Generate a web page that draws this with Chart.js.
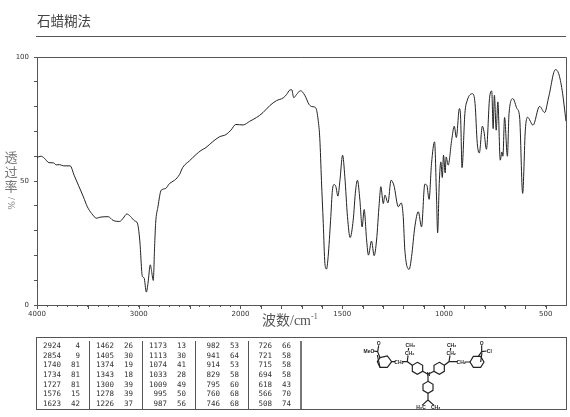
<!DOCTYPE html>
<html lang="zh">
<head>
  <meta charset="UTF-8" />
  <title>石蜡糊法</title>
  <script src="https://cdn.jsdelivr.net/npm/chart.js"></script>
  <style>
    body {
      margin: 0;
      background: white;
      font-family: "Liberation Serif", "Noto Sans CJK SC", serif;
      color: #333;
    }
    .page {
      position: relative;
      width: 570px;
      height: 417px;
      overflow: hidden;
    }
    canvas {
      position: absolute;
      left: 0;
      top: 0;
    }
    .title {
      position: absolute;
      left: 37px;
      top: 14px;
      font-size: 13.5px;
      line-height: 16px;
      color: #444;
    }
    .rule {
      position: absolute;
      left: 36px;
      top: 36px;
      width: 530px;
      height: 1px;
      background: #555;
    }
    .ylabel {
      position: absolute;
      left: 4px;
      top: 151px;
      width: 14px;
      font-size: 13px;
      line-height: 14.5px;
      text-align: center;
      color: #777;
    }
    .ylabel span {
      display: block;
    }
    .ylabel .side {
      height: 7px;
      line-height: 7px;
      font-size: 10px;
      transform: rotate(90deg);
    }
    .xlabel {
      position: absolute;
      left: 262px;
      top: 312px;
      font-size: 14px;
      line-height: 18px;
      color: #555;
      white-space: nowrap;
    }
    .xlabel sup {
      font-size: 8px;
      line-height: 0;
    }
    .peaks {
      position: absolute;
      left: 36px;
      top: 337px;
      width: 529px;
      height: 71px;
      border: 1px solid #555;
    }
    .peakcol {
      position: absolute;
      top: 3px;
      width: 53px;
      height: 68px;
      box-sizing: border-box;
      border-right: 1px solid #555;
      font-family: "DejaVu Sans Mono", monospace;
      font-size: 7.5px;
      color: #333;
    }
    .peakcol:last-child {
      border-right: 2px solid #777;
    }
    .peakrow {
      position: relative;
      height: 9.7px;
      line-height: 9.7px;
    }
    .peakrow span {
      position: absolute;
      text-align: right;
    }
    .peakrow .w { right: 28px; }
    .peakrow .t { right: 9px; }
    .struct {
      position: absolute;
      left: 300px;
      top: 330px;
      width: 270px;
      height: 85px;
    }
    .struct text {
      font-family: "Liberation Sans", sans-serif;
      font-size: 15px;
      font-weight: bold;
      text-anchor: middle;
      fill: #222;
    }
  </style>
</head>
<body>

<div class="page">
  <canvas id="irChart" width="570" height="417"></canvas>
  <div class="title">石蜡糊法</div>
  <div class="rule"></div>
  <div class="ylabel"><span>透</span><span>过</span><span>率</span><span class="side">/</span><span class="side">%</span></div>
  <div class="xlabel">波数/cm<sup>-1</sup></div>
  <div class="peaks" id="peaks"></div>

  <svg class="struct" viewBox="0 0 810 255">
    <g fill="none" stroke="#222" stroke-width="3.5">
      <polygon points="240,83 262,78 275,95 262,112 240,112 232,95" />
      <polygon points="510,96 520,79 542,79 552,96 542,112 520,112" />
      <polygon points="352,97 368,106 368,124 352,133 337,124 337,106" />
      <polygon points="418,97 433,106 433,124 418,133 402,124 402,106" />
      <polygon points="384,154 399,163 399,181 384,190 369,181 369,163" />
      <path d="M368,124 L384,133 L402,124 M384,133 L384,154 M384,190 L384,210 L366,226 M384,210 L402,226" />
      <path d="M275,95 L287,95 M306,95 L322,95 L337,106 M322,95 L324,76 M325,62 L326,54" />
      <path d="M433,106 L447,95 L473,95 M447,95 L450,76 M451,62 L452,54 M494,96 L510,96" />
      <path d="M240,83 L233,65 L236,46 M233,65 L220,63 M240,112 L232,75" />
      <path d="M535,79 L545,65 L545,46 M545,65 L560,63 M542,96 L546,68" />
    </g>
    <text x="207" y="68">MeO</text>
    <text x="236" y="44">O</text>
    <text x="297" y="101">CH₂</text>
    <text x="329" y="74">CH₂</text>
    <text x="331" y="52">CH₃</text>
    <text x="484" y="101">CH₂</text>
    <text x="454" y="74">CH₂</text>
    <text x="455" y="52">CH₃</text>
    <text x="545" y="44">O</text>
    <text x="568" y="68">Cl</text>
    <text x="386" y="138">N</text>
    <text x="363" y="238">H₃C</text>
    <text x="407" y="238">CH₃</text>
  </svg>
</div>

<script>
  // spectrum
  const waveNumbers = [
    4000, 3961, 3928, 3883, 3837, 3811, 3778, 3739, 3674, 3635, 3593, 3544, 3505, 3463, 3414, 3381,
    3300, 3251, 3186, 3153, 3117, 3081, 3039, 3013, 2990, 2964, 2948, 2925, 2909, 2886, 2873, 2857,
    2844, 2834, 2811, 2779, 2739, 2697, 2648, 2599, 2567, 2502, 2436, 2388, 2339, 2274, 2208, 2143,
    2094, 2045, 1987, 1954, 1921, 1889, 1856, 1823, 1790, 1774, 1757, 1748, 1738, 1725, 1705, 1684,
    1663, 1648, 1630, 1618, 1610, 1602, 1593, 1585, 1577, 1569, 1557, 1548, 1539, 1531, 1521, 1511,
    1498, 1487, 1474, 1461, 1446, 1434, 1425, 1413, 1402, 1392, 1380, 1371, 1356, 1343, 1331, 1318,
    1310, 1298, 1290, 1275, 1260, 1246, 1224, 1210, 1200, 1192, 1171, 1159, 1143, 1126, 1110, 1094,
    1084, 1073, 1061, 1046, 1036, 1031, 1023, 1015, 1008, 1002, 994, 989, 979, 962, 949, 939,
    924, 918, 911, 897, 885, 859, 847, 836, 826, 811, 803, 791, 776, 765, 758, 752,
    743, 735, 723, 715, 710, 702, 688, 680, 661, 641, 628, 613, 600, 589, 562, 530,
    505, 485, 452, 436, 419, 400
  ];
  const transmittance = [
    59.5, 60, 59.2, 57.4, 57.3, 56.5, 56.6, 56.1, 56.1, 52.3, 48.3, 43.6, 39.6, 36.9, 35, 35.4,
    35.6, 34.1, 33.7, 35, 36.7, 35.7, 33.9, 33, 26.2, 11.5, 11, 5.2, 8.8, 16.2, 13.5, 9.9,
    23.5, 32.9, 39.6, 46.3, 46.9, 49, 50.3, 52.6, 55.5, 58.1, 60.7, 62.3, 63.5, 65.8, 67.8, 68.7,
    70.5, 72.8, 72.6, 74.1, 75.6, 77.6, 80.4, 82.4, 83.5, 84.8, 86.7, 86.8, 83.6, 84.8, 86.4, 84.6,
    80.9, 80, 79.5, 74.5, 67.1, 50.3, 32.9, 16.8, 14.5, 19.5, 34.2, 46.3, 48.6, 47.7, 43.9, 50.3,
    60.4, 51.7, 35.6, 27.2, 34.2, 46.3, 50.3, 42.3, 31.5, 38.5, 26.2, 20.1, 25.8, 19.9, 26.2, 40.9,
    47.7, 40.9, 44.3, 41.2, 50.3, 48.3, 39.6, 41.2, 35.6, 22.1, 14.4, 19.5, 31.5, 37.6, 31.5, 48.7,
    48.3, 42.6, 57, 65.8, 42.3, 29.1, 49, 57.7, 51.4, 60.4, 53.3, 59.7, 56.4, 66.4, 72.1, 67.5,
    79.2, 75.8, 55.4, 77.2, 82.6, 85.2, 81.2, 65.1, 61.3, 72.1, 69.8, 62.8, 83.2, 86.3, 71.1, 84.6,
    70.5, 81.9, 58.4, 61.7, 60, 75.6, 60, 77.2, 83.2, 79.2, 75.8, 45, 70.5, 75.7, 72.5, 80.1,
    77.6, 83.9, 94.9, 93.3, 86.6, 74.1
  ];

  // peak table, five columns
  const peakWaves = [
    [2924, 2854, 1740, 1734, 1727, 1576, 1623],
    [1462, 1405, 1374, 1343, 1300, 1278, 1226],
    [1173, 1113, 1074, 1033, 1009, 995, 987],
    [982, 941, 914, 829, 795, 760, 746],
    [726, 721, 715, 694, 618, 566, 508]
  ];
  const peakValues = [
    [4, 9, 81, 81, 81, 15, 42],
    [26, 30, 19, 18, 39, 39, 37],
    [13, 30, 41, 28, 49, 50, 56],
    [53, 64, 53, 58, 60, 68, 68],
    [66, 58, 58, 58, 43, 70, 74]
  ];

  const xTickLabels = [4000, 3000, 2000, 1500, 1000, 500];
  const yTickLabels = [0, 50, 100];

  // the axis changes scale at 2000: above it 1000 cm-1 takes half the width
  function toAxis(w) {
    return w >= 2000 ? (4000 - w) / 2 : 1000 + (2000 - w);
  }
  function fromAxis(a) {
    return a <= 1000 ? 4000 - a * 2 : 2000 - (a - 1000);
  }

  const axisTicks = [];
  for (let w = 4000; w >= 500; w -= 100) axisTicks.push(w);

  const points = waveNumbers.map((w, i) => ({ x: toAxis(w), y: transmittance[i] }));

  // frame on top and right, longer ticks on the x axis
  const frame = {
    id: 'frame',
    afterDraw(chart) {
      const { ctx, chartArea: a, scales } = chart;
      ctx.save();
      ctx.strokeStyle = '#555';
      ctx.lineWidth = 1;
      ctx.beginPath();
      ctx.moveTo(a.left, a.top + 0.5);
      ctx.lineTo(a.right + 0.5, a.top + 0.5);
      ctx.lineTo(a.right + 0.5, a.bottom);
      axisTicks.forEach(w => {
        if (w < 2000 || w % 500 === 0) {
          const x = Math.round(scales.x.getPixelForValue(toAxis(w))) + 0.5;
          ctx.moveTo(x, a.bottom);
          ctx.lineTo(x, a.bottom + 4);
        }
      });
      ctx.stroke();
      ctx.restore();
    }
  };

  Chart.defaults.animation = false;

  new Chart(document.getElementById('irChart'), {
    type: 'line',
    data: {
      datasets: [{
        data: points,
        borderColor: '#222',
        borderWidth: 1,
        pointRadius: 0,
        cubicInterpolationMode: 'monotone',
        fill: false
      }]
    },
    options: {
      responsive: false,
      layout: { padding: { left: 0, top: 57, right: 4, bottom: 0 } },
      plugins: {
        legend: { display: false },
        tooltip: { enabled: false }
      },
      scales: {
        x: {
          type: 'linear',
          min: 0,
          max: 2600,
          afterBuildTicks(axis) {
            axis.ticks = axisTicks.map(w => ({ value: toAxis(w) }));
          },
          afterFit(axis) {
            axis.height = 112;
          },
          grid: { drawOnChartArea: false, tickLength: 2, tickColor: '#555' },
          border: { color: '#555' },
          ticks: {
            autoSkip: false,
            maxRotation: 0,
            padding: 3,
            color: '#333',
            font: { family: 'DejaVu Sans', size: 7 },
            callback(value) {
              const w = Math.round(fromAxis(value));
              return xTickLabels.includes(w) ? String(w) : '';
            }
          }
        },
        y: {
          min: 0,
          max: 100,
          afterFit(axis) {
            axis.width = 37;
          },
          grid: { drawOnChartArea: false, tickLength: 3, tickColor: '#555' },
          border: { color: '#555' },
          ticks: {
            stepSize: 10,
            padding: 5,
            color: '#333',
            font: { family: 'DejaVu Sans', size: 7 },
            callback(value) {
              return yTickLabels.includes(value) ? String(value) : '';
            }
          }
        }
      }
    },
    plugins: [frame]
  });

  // peak table
  const peaks = document.getElementById('peaks');
  peakWaves.forEach((col, c) => {
    const div = document.createElement('div');
    div.className = 'peakcol';
    div.style.left = (c * 53) + 'px';
    col.forEach((w, r) => {
      const row = document.createElement('div');
      row.className = 'peakrow';
      row.innerHTML = '<span class="w">' + w + '</span><span class="t">' + peakValues[c][r] + '</span>';
      div.appendChild(row);
    });
    peaks.appendChild(div);
  });
</script>

</body>
</html>
